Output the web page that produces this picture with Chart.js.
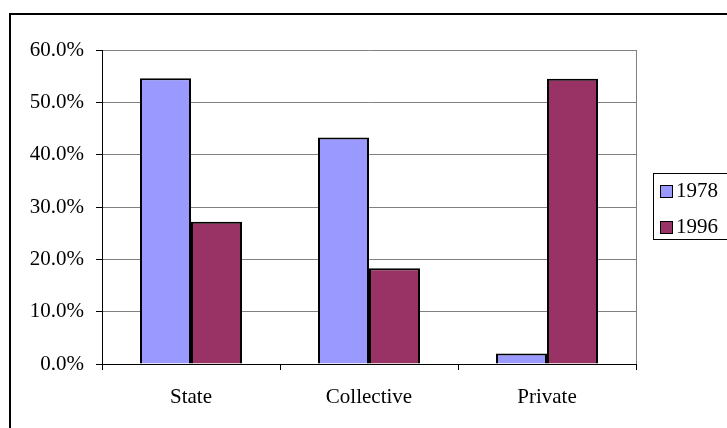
<!DOCTYPE html>
<html>
<head>
<meta charset="utf-8">
<script src="https://cdn.jsdelivr.net/npm/chart.js@4"></script>
<style>
  body { margin: 0; background: #fff; overflow: hidden; }
  #wrap { position: relative; width: 727px; height: 428px; }
  #frame { position: absolute; left: 9px; top: 13px; width: 740px; height: 440px; border: 2px solid #000; box-sizing: border-box; }
  #legend { position: absolute; left: 653px; top: 173px; width: 100px; height: 67px; border: 1px solid #000; box-sizing: border-box;
            font-family: "Liberation Serif", "Times New Roman", serif; font-size: 21px; color: #000; }
  .item { position: absolute; left: 6px; height: 24px; line-height: 24px; white-space: nowrap; }
  .sw { display: inline-block; width: 13px; height: 13px; border: 1.5px solid #000; box-sizing: border-box; vertical-align: -1px; margin-right: 3px; }
  canvas { position: absolute; left: 0; top: 0; }
</style>
</head>
<body>
<div id="wrap">
  <div id="frame"></div>
  <canvas id="chart" width="727" height="428"></canvas>
  <div id="legend"></div>
</div>
<script>
// Share of employment by ownership type
const categories = ["State", "Collective", "Private"];
const seriesNames = ["1978", "1996"];
const values1978 = [54.6, 43.3, 2.0];
const values1996 = [27.2, 18.3, 54.5];
const colors = ["#9999FF", "#993366"];
const yTicks = [0, 10, 20, 30, 40, 50, 60];

const serif = "'Liberation Serif', 'Times New Roman', serif";

// Legend (HTML, boxed)
const legend = document.getElementById("legend");
seriesNames.forEach((name, i) => {
  const item = document.createElement("div");
  item.className = "item";
  item.style.top = (4 + i * 36) + "px";
  item.innerHTML = '<span class="sw" style="background:' + colors[i] + '"></span>' + name;
  legend.appendChild(item);
});

// Gray right edge of the plot area
const plotFrame = {
  id: "plotFrame",
  afterDatasetsDraw(chart) {
    const { ctx, chartArea } = chart;
    ctx.save();
    ctx.strokeStyle = "#808080";
    ctx.lineWidth = 1;
    ctx.beginPath();
    ctx.moveTo(chartArea.right + 0.5, chartArea.top);
    ctx.lineTo(chartArea.right + 0.5, chartArea.bottom);
    ctx.stroke();
    ctx.restore();
  }
};

new Chart(document.getElementById("chart"), {
  type: "bar",
  data: {
    labels: categories,
    datasets: [
      { label: seriesNames[0], data: values1978, backgroundColor: colors[0], borderColor: "#000", borderWidth: 2 },
      { label: seriesNames[1], data: values1996, backgroundColor: colors[1], borderColor: "#000", borderWidth: 2 }
    ]
  },
  options: {
    responsive: false,
    animation: false,
    layout: { padding: { left: 0, top: 50, right: 91, bottom: 0 } },
    datasets: { bar: { categoryPercentage: 0.573, barPercentage: 1.0 } },
    plugins: { legend: { display: false }, tooltip: { enabled: false } },
    scales: {
      x: {
        grid: { drawOnChartArea: false, drawTicks: true, tickLength: 6, color: "#000", offset: true },
        border: { color: "#000", width: 1 },
        ticks: { color: "#000", font: { family: serif, size: 21 }, padding: 15, maxRotation: 0 },
        afterFit(scale) { scale.height = 64; }
      },
      y: {
        min: yTicks[0],
        max: yTicks[yTicks.length - 1],
        afterBuildTicks(scale) { scale.ticks = yTicks.map(v => ({ value: v })); },
        grid: { color: "#808080", tickColor: "#000", tickLength: 6 },
        border: { color: "#000", width: 1 },
        ticks: {
          color: "#000",
          font: { family: serif, size: 21 },
          padding: 12,
          callback: v => v.toFixed(1) + "%"
        },
        afterFit(scale) { scale.width = 102; }
      }
    }
  },
  plugins: [plotFrame]
});
</script>
</body>
</html>
